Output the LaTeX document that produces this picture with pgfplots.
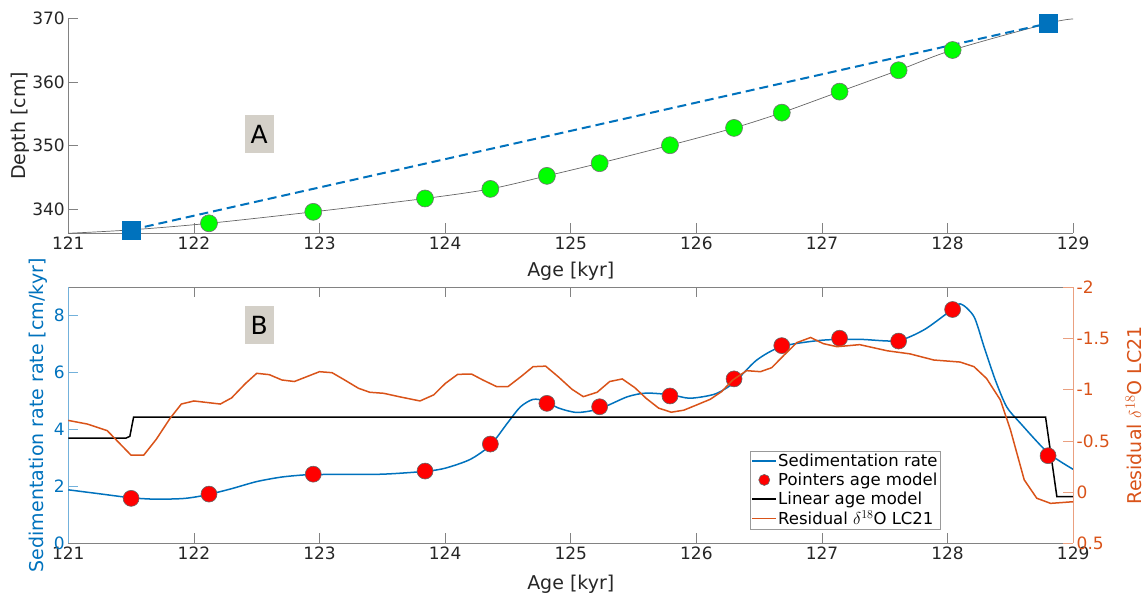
\documentclass[border=0pt]{standalone}
\usepackage{pgfplots}
\pgfplotsset{compat=1.18}
\usepackage{fontspec}
\setmainfont{DejaVu Sans}

\definecolor{matblue}{HTML}{0072BD}
\definecolor{matorange}{HTML}{D95319}
\definecolor{txtgray}{HTML}{262626}
\definecolor{axgray}{RGB}{130,130,130}
\definecolor{tagfill}{RGB}{212,208,200}
\definecolor{ptgreen}{HTML}{00FF00}
\definecolor{ptred}{HTML}{FF0000}

\pgfplotsset{
  panel/.style={
    scale only axis,
    width=1005pt,
    xmin=121, xmax=129,
    xtick={121,122,...,129},
    tick align=inside,
    major tick length=10pt,
    clip=false,
    /pgf/number format/assume math mode=true,
    tick label style={font=\fontsize{17}{20}\selectfont},
    xticklabel style={text=txtgray},
    label style={font=\fontsize{19}{22}\selectfont},
    xlabel style={text=txtgray},
    axis line style={-, line width=0.8pt, draw=axgray},
    tick style={line width=0.8pt, draw=axgray},
  },
}
\tikzset{
  tag/.style={fill=tagfill, minimum width=29pt, minimum height=38pt,
    inner sep=0pt, font=\fontsize{25}{28}\selectfont, text=black},
}

\begin{document}
\begin{tikzpicture}

% ---------------- Panel A: age-depth model ----------------
\begin{axis}[panel,
  at={(68.3pt,360.7pt)}, anchor=south west, height=215pt,
  ymin=336.23, ymax=370, ytick={340,350,360,370},
  axis x line*=bottom, axis y line*=left,
  yticklabel style={text=txtgray},
  xlabel={Age [kyr]}, ylabel={Depth [cm]},
  xlabel style={at={(axis description cs:0.5,-0.2019)}, anchor=base},
  ylabel style={at={(axis description cs:-0.048,0.5)}, anchor=center, text=txtgray},
]
% age-depth curve
\addplot[black!60, line width=0.7pt, smooth, tension=0.5] coordinates {
  (121.00,336.23) (121.50,336.77) (122.12,337.80) (122.95,339.60)
  (123.84,341.70) (124.36,343.20) (124.81,345.25) (125.23,347.24)
  (125.79,350.06) (126.30,352.78) (126.68,355.18) (127.14,358.48)
  (127.61,361.84) (128.04,365.02) (128.80,369.20) (129.00,369.90)
};
% pointers
\addplot[only marks, mark=*, mark size=8.5pt,
  mark options={fill=ptgreen, draw=black!55, line width=0.6pt}] coordinates {
  (122.12,337.80) (122.95,339.60) (123.84,341.70) (124.36,343.20)
  (124.81,345.25) (125.23,347.24) (125.79,350.06) (126.30,352.78)
  (126.68,355.18) (127.14,358.48) (127.61,361.84) (128.04,365.02)
};
% linear age model between tie points
\addplot[matblue, line width=2pt, dash pattern=on 9pt off 5pt] coordinates {
  (121.50,336.77) (128.80,369.20)
};
\addplot[only marks, mark=square*, mark size=9pt,
  mark options={fill=matblue, draw=matblue}] coordinates {
  (121.50,336.77) (128.80,369.20)
};
\node[tag] at (axis cs:122.52,351.8) {A};
\end{axis}

% ---------------- Panel B: sedimentation rate (left axis) ----------------
\begin{axis}[panel,
  at={(68.3pt,50.7pt)}, anchor=south west, height=256pt,
  ymin=0, ymax=9, ytick={0,2,4,6,8},
  separate axis lines,
  axis x line*=box, axis y line*=left,
  y axis line style={draw=matblue!55},
  ytick style={draw=matblue!55},
  yticklabel style={text=matblue},
  xlabel={Age [kyr]},
  ylabel={Sedimentation rate rate [cm/kyr]},
  xlabel style={at={(axis description cs:0.5,-0.1823)}, anchor=base},
  ylabel style={at={(axis description cs:-0.0297,0.5)}, anchor=center, text=matblue},
]
\addplot[matblue, line width=1.5pt, smooth, tension=0.45] coordinates {
  (121.00,1.88) (121.25,1.74) (121.50,1.60) (121.70,1.55) (121.90,1.57)
  (122.00,1.62) (122.12,1.72) (122.30,1.92) (122.50,2.17) (122.70,2.33)
  (122.90,2.41) (123.10,2.42) (123.50,2.43) (123.84,2.53) (124.00,2.64)
  (124.20,2.95) (124.36,3.45) (124.50,4.25) (124.60,4.80) (124.70,5.06)
  (124.80,5.00) (124.90,4.76) (125.05,4.60) (125.23,4.73) (125.45,5.15)
  (125.60,5.28) (125.80,5.22) (125.95,5.10) (126.15,5.25) (126.30,5.65)
  (126.48,6.44) (126.68,6.92) (127.00,7.14) (127.30,7.17) (127.60,7.12)
  (127.81,7.50) (128.00,8.10) (128.10,8.42) (128.21,7.97) (128.29,6.91)
  (128.38,5.74) (128.47,4.80) (128.58,4.22) (128.80,3.18) (129.00,2.60)
};
\addplot[only marks, mark=*, mark size=8pt,
  mark options={fill=ptred, draw=black!60, line width=0.6pt}] coordinates {
  (121.50,1.58) (122.12,1.73) (122.95,2.43) (123.84,2.54) (124.36,3.49)
  (124.81,4.92) (125.23,4.80) (125.79,5.18) (126.30,5.78) (126.68,6.95)
  (127.14,7.21) (127.61,7.11) (128.04,8.22) (128.80,3.08)
};
\addplot[black, line width=1.5pt] coordinates {
  (121.00,3.70) (121.46,3.70) (121.49,3.76) (121.52,4.44)
  (128.78,4.44) (128.87,1.64) (129.00,1.64)
};
\node[tag] at (axis cs:122.52,7.67) {B};
\end{axis}

% ---------------- Panel B: residual d18O (right axis) ----------------
\begin{axis}[panel,
  at={(68.3pt,50.7pt)}, anchor=south west, height=256pt,
  axis x line=none, axis y line*=right,
  ymin=-2, ymax=0.5, y dir=reverse,
  ytick={-2,-1.5,-1,-0.5,0,0.5},
  yticklabels={-2,-1.5,-1,-0.5,0,0.5},
  y axis line style={draw=matorange!55},
  ytick style={draw=matorange!55},
  yticklabel style={text=matorange},
  ylabel={Residual $\delta^{18}$O LC21},
  ylabel style={at={(axis description cs:1.0599,0.5)}, anchor=center, text=matorange},
  legend style={at={(axis description cs:0.868,0.0547)}, anchor=south east,
    font=\fontsize{16.5}{18}\selectfont, draw=black!40, line width=0.6pt,
    inner sep=1.5pt, row sep=2.5pt, nodes={inner sep=1.2pt},
    cells={anchor=west}},
]
\addlegendimage{legend image code/.code={
  \draw[matblue, line width=1.5pt] (0pt,0pt) -- (24pt,0pt);}}
\addlegendentry{Sedimentation rate}
\addlegendimage{legend image code/.code={
  \draw[fill=ptred, draw=black!60, line width=0.6pt] (12pt,0pt) circle[radius=5.5pt];}}
\addlegendentry{Pointers age model}
\addlegendimage{legend image code/.code={
  \draw[black, line width=1.5pt] (0pt,0pt) -- (24pt,0pt);}}
\addlegendentry{Linear age model}
\addplot[matorange, line width=1.5pt,
  legend image code/.code={\draw[matorange, line width=1.5pt] (0pt,0pt) -- (24pt,0pt);}]
  coordinates {
  (121.00,-0.70) (121.15,-0.665) (121.31,-0.60) (121.50,-0.36) (121.60,-0.36)
  (121.70,-0.515) (121.81,-0.72) (121.90,-0.86) (122.00,-0.89) (122.21,-0.86)
  (122.30,-0.92) (122.41,-1.06) (122.50,-1.16) (122.60,-1.147) (122.70,-1.095)
  (122.80,-1.08) (123.00,-1.176) (123.10,-1.166) (123.20,-1.095) (123.31,-1.014)
  (123.40,-0.975) (123.51,-0.965) (123.64,-0.93) (123.80,-0.89) (123.91,-0.95)
  (124.00,-1.06) (124.10,-1.15) (124.21,-1.153) (124.30,-1.095) (124.41,-1.03)
  (124.50,-1.03) (124.61,-1.134) (124.70,-1.225) (124.80,-1.23) (124.90,-1.127)
  (125.01,-1.004) (125.10,-0.932) (125.21,-0.975) (125.31,-1.08) (125.41,-1.105)
  (125.51,-1.02) (125.60,-0.916) (125.70,-0.82) (125.80,-0.78) (125.90,-0.80)
  (126.00,-0.85) (126.11,-0.906) (126.20,-0.98) (126.29,-1.095) (126.40,-1.186)
  (126.51,-1.176) (126.60,-1.215) (126.70,-1.34) (126.80,-1.46) (126.91,-1.51)
  (127.01,-1.45) (127.12,-1.42) (127.30,-1.44) (127.52,-1.38) (127.70,-1.35)
  (127.89,-1.29) (128.10,-1.27) (128.21,-1.225) (128.31,-1.11) (128.42,-0.90)
  (128.50,-0.61) (128.61,-0.12) (128.71,0.06) (128.82,0.11) (129.00,0.094)
};
\addlegendentry{Residual $\delta^{18}$O LC21}
\end{axis}

% page frame
\pgfresetboundingbox
\useasboundingbox (0pt,0pt) rectangle (1147pt,594pt);
\end{tikzpicture}
\end{document}
